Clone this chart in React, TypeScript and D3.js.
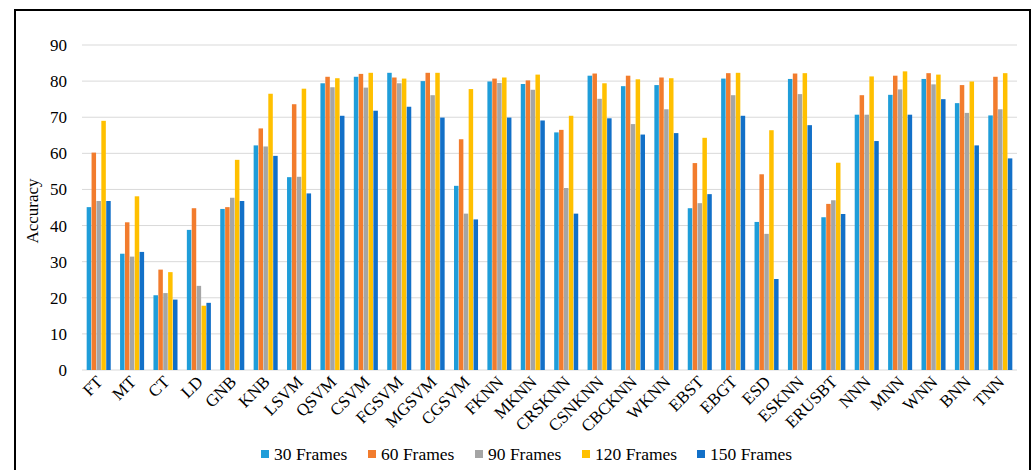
import React from "react";
import * as d3 from "d3";

const categories = [
  "FT", "MT", "CT", "LD", "GNB", "KNB", "LSVM", "QSVM", "CSVM", "FGSVM",
  "MGSVM", "CGSVM", "FKNN", "MKNN", "CRSKNN", "CSNKNN", "CBCKNN", "WKNN",
  "EBST", "EBGT", "ESD", "ESKNN", "ERUSBT", "NNN", "MNN", "WNN", "BNN", "TNN",
];

const seriesNames = ["30 Frames", "60 Frames", "90 Frames", "120 Frames", "150 Frames"];

const frames30 = [45.1, 32.2, 20.7, 38.8, 44.6, 62.2, 53.4, 79.4, 81.2, 82.3, 80.0, 51.0, 79.9, 79.2, 65.8, 81.5, 78.6, 78.9, 44.8, 80.7, 41.0, 80.6, 42.3, 70.7, 76.2, 80.6, 73.9, 70.5];
const frames60 = [60.2, 40.9, 27.8, 44.8, 45.1, 66.9, 73.6, 81.2, 82.0, 81.0, 82.3, 63.9, 80.7, 80.2, 66.5, 82.1, 81.5, 81.0, 57.3, 82.2, 54.2, 82.1, 46.0, 76.1, 81.5, 82.2, 78.9, 81.2];
const frames90 = [46.8, 31.4, 21.3, 23.3, 47.7, 61.9, 53.5, 78.3, 78.2, 79.4, 76.1, 43.3, 79.5, 77.6, 50.4, 75.1, 68.1, 72.2, 46.2, 76.1, 37.7, 76.4, 47.0, 70.7, 77.7, 79.1, 71.2, 72.2];
const frames120 = [69.0, 48.1, 27.1, 17.8, 58.2, 76.5, 77.9, 80.8, 82.3, 80.7, 82.3, 77.8, 81.0, 81.8, 70.4, 79.4, 80.5, 80.8, 64.3, 82.3, 66.4, 82.2, 57.4, 81.3, 82.7, 81.8, 79.9, 82.2];
const frames150 = [46.8, 32.7, 19.5, 18.6, 46.8, 59.3, 48.9, 70.4, 71.8, 72.9, 69.9, 41.7, 69.9, 69.1, 43.3, 69.7, 65.2, 65.6, 48.7, 70.4, 25.2, 67.8, 43.2, 63.4, 70.7, 75.0, 62.2, 58.6];

const seriesValues = [frames30, frames60, frames90, frames120, frames150];
const seriesColors = ["#1F9DD9", "#F27C2D", "#A5A5A5", "#FFC000", "#1270C8"];

const yTicks = [0, 10, 20, 30, 40, 50, 60, 70, 80, 90];

const FONT = "'Liberation Serif', 'Times New Roman', serif";

export default function App() {
  const width = 1032;
  const height = 470;
  const left = 82;
  const right = 1017;
  const top = 45;
  const bottom = 370;

  const x = d3.scaleBand<string>().domain(categories).range([left, right]).paddingInner(0.28).paddingOuter(0.14);
  const xInner = d3
    .scaleBand<number>()
    .domain(d3.range(seriesNames.length))
    .range([0, x.bandwidth()])
    .paddingInner(0.08);
  const y = d3.scaleLinear().domain([0, 90]).range([bottom, top]);

  const legendX = [261, 368, 475, 582, 697];

  return (
    <svg width={width} height={height} style={{ display: "block", position: "absolute", left: 0, top: 0 }}>
      <rect x={0} y={0} width={width} height={height} fill="#fff" />
      {/* outer frame, open at the bottom */}
      <path d={`M15,480 V10 H1030 V480`} fill="none" stroke="#000" strokeWidth={2} />

      {/* gridlines */}
      {yTicks.map((t) => (
        <line key={t} x1={left} x2={right} y1={y(t)} y2={y(t)} stroke="#D9D9D9" strokeWidth={1} />
      ))}

      {/* y tick labels */}
      {yTicks.map((t) => (
        <text key={t} x={67} y={y(t)} dy="0.35em" textAnchor="end" fontFamily={FONT} fontSize={17} fill="#000">
          {t}
        </text>
      ))}

      <text
        transform={`translate(38,211) rotate(-90)`}
        textAnchor="middle"
        fontFamily={FONT}
        fontSize={17}
        fill="#000"
      >
        Accuracy
      </text>

      {/* bars */}
      {categories.map((c, ci) => (
        <g key={c} transform={`translate(${x(c)},0)`}>
          {seriesValues.map((vals, si) => (
            <rect
              key={si}
              x={xInner(si)}
              y={y(vals[ci])}
              width={xInner.bandwidth()}
              height={y(0) - y(vals[ci])}
              fill={seriesColors[si]}
            />
          ))}
        </g>
      ))}

      {/* category labels */}
      {categories.map((c) => {
        const cx = (x(c) as number) + x.bandwidth() / 2 + 5;
        return (
          <text
            key={c}
            transform={`translate(${cx},383) rotate(-45)`}
            textAnchor="end"
            fontFamily={FONT}
            fontSize={17}
            fill="#000"
          >
            {c}
          </text>
        );
      })}

      {/* legend */}
      {seriesNames.map((name, i) => (
        <g key={name} transform={`translate(${legendX[i]},454)`}>
          <rect x={0} y={-4} width={8} height={8} fill={seriesColors[i]} />
          <text x={13} y={0} dy="0.35em" fontFamily={FONT} fontSize={17.5} fill="#000">
            {name}
          </text>
        </g>
      ))}
    </svg>
  );
}
